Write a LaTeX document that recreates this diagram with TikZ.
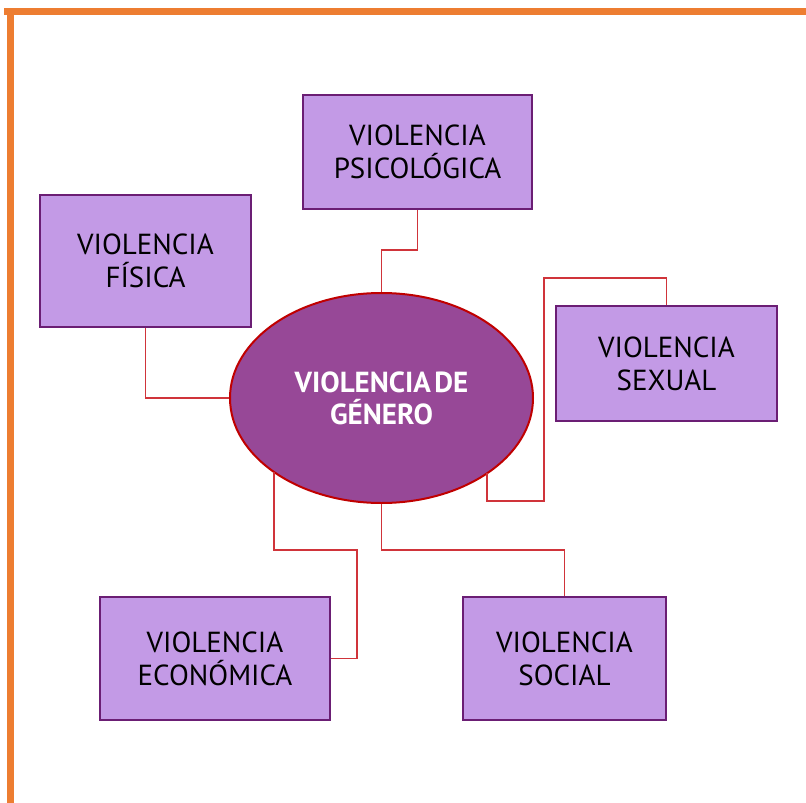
\documentclass[tikz,border=0pt]{standalone}
\usepackage{fontspec}
\setmainfont{PT Sans}
\usetikzlibrary{shapes.geometric}
\definecolor{boxfill}{RGB}{195,154,230}
\definecolor{boxline}{RGB}{107,30,116}
\definecolor{ellfill}{RGB}{151,72,151}
\definecolor{ellline}{RGB}{192,0,0}
\definecolor{conn}{RGB}{208,52,58}
\definecolor{frame}{RGB}{237,125,49}
\begin{document}
\begin{tikzpicture}[x=1pt,y=-1pt,
  vbox/.style={rectangle,draw=boxline,line width=2pt,fill=boxfill,align=center,
    inner sep=0pt,font=\fontsize{29}{33}\selectfont,text=black},
  link/.style={draw=conn,line width=1.8pt}]
\useasboundingbox (0,0) rectangle (806,803);
\fill[white] (0,0) rectangle (806,803);
% orange frame
\draw[frame,line width=7pt] (4,11.5) -- (806,11.5);
\draw[frame,line width=7pt] (10,8) -- (10,803);
% boxes
\node[vbox,minimum width=229pt,minimum height=114pt] (psi) at (417.5,152) {VIOLENCIA\\PSICOLÓGICA};
\node[vbox,minimum width=211pt,minimum height=132pt] (fis) at (145.5,261) {VIOLENCIA\\FÍSICA};
\node[vbox,minimum width=221pt,minimum height=115pt] (sex) at (666.5,363.5) {VIOLENCIA\\SEXUAL};
\node[vbox,minimum width=230pt,minimum height=123pt] (eco) at (215,658.5) {VIOLENCIA\\ECONÓMICA};
\node[vbox,minimum width=203pt,minimum height=123pt] (soc) at (564.5,658.5) {VIOLENCIA\\SOCIAL};
% centre ellipse
\node[ellipse,draw=ellline,line width=2pt,fill=ellfill,minimum width=303pt,minimum height=210pt,
  inner sep=0pt,align=center,text=white,font=\bfseries\fontsize{29}{32}\selectfont] (gen) at (381.5,398) {VIOLENCIA\hspace{0.12em}DE\\GÉNERO};
% connection points on the ellipse
\coordinate (gse) at ([shift={(105.5,75.4)}]gen.center);
\coordinate (gsw) at ([shift={(-107.5,74)}]gen.center);
% connectors
\draw[link] (psi.south) -- (psi.south |- 0,250) -| (gen.north);
\draw[link] (fis.south) |- (gen.west);
\draw[link] (sex.north) -- (sex.north |- 0,278) -| (544,501) -| (gse);
\draw[link] (gsw) |- (357,550) |- (eco.east);
\draw[link] (gen.south) -- (gen.south |- 0,550) -| (soc.north);
\end{tikzpicture}
\end{document}
